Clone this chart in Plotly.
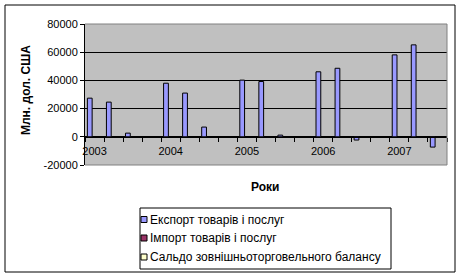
import plotly.graph_objects as go

# ---- data ----
category_labels = ["2003", "", "", "", "2004", "", "", "", "2005", "", "", "",
                   "2006", "", "", "", "2007", "", ""]
export_values = [27400, 24600, 2600, None, 38000, 31000, 6900, None,
                 40200, 39200, 1200, None, 46100, 48600, -2300, None,
                 58100, 65200, -7300]
series_names = ["Експорт товарів і послуг", "Імпорт товарів і послуг",
                "Сальдо зовнішньоторговельного балансу"]
series_colors = ["#9999FF", "#993366", "#FFFFCC"]
y_tick_values = [-20000, 0, 20000, 40000, 60000, 80000]
y_tick_labels = ["-20000", "0", "20000", "40000", "60000", "80000"]
y_title = "Млн. дол. США"
x_title = "Роки"

# ---- layout geometry (pixels) ----
W, H = 462, 278
L, R, T, B = 85, 15, 24, 113
PW, PH = W - L - R, H - T - B


def px_x(p):
    return (p - L) / PW


def px_y(p):
    return (H - B - p) / PH


FONT = "Liberation Sans, Arial, sans-serif"
x_pos = list(range(len(category_labels)))
tick_pos = [i for i, s in enumerate(category_labels) if s]
tick_txt = [s for s in category_labels if s]

fig = go.Figure()
fig.add_trace(go.Bar(
    x=x_pos, y=export_values, name=series_names[0],
    width=0.25, offset=-0.375,
    marker=dict(color=series_colors[0], line=dict(color="black", width=1)),
    showlegend=False,
))

zero_frac = (0 - y_tick_values[0]) / (y_tick_values[-1] - y_tick_values[0])

fig.update_layout(
    width=W, height=H,
    margin=dict(l=L, r=R, t=T, b=B),
    paper_bgcolor="white", plot_bgcolor="#C0C0C0",
    barmode="overlay",
    font=dict(family=FONT, size=11, color="black"),
    xaxis=dict(
        range=[-0.5, len(category_labels) - 0.5],
        anchor="free", position=zero_frac,
        showline=True, linecolor="black", linewidth=1,
        showgrid=False, zeroline=False,
        tickmode="array", tickvals=tick_pos, ticktext=tick_txt,
        ticks="outside", ticklen=4, tickcolor="rgba(0,0,0,0)",
        tickfont=dict(size=11, color="black"),
        minor=dict(tickmode="linear", tick0=-0.5, dtick=1, ticks="outside",
                   ticklen=4, tickcolor="black", tickwidth=1, showgrid=False),
    ),
    yaxis=dict(
        range=[y_tick_values[0], y_tick_values[-1]],
        tickmode="array", tickvals=y_tick_values, ticktext=y_tick_labels,
        showline=True, linecolor="black", linewidth=1,
        ticks="outside", ticklen=4, tickcolor="black",
        showgrid=True, gridcolor="black", gridwidth=1,
        zeroline=False,
        tickfont=dict(size=11, color="black"),
    ),
)

shapes = []
# plot-area border (top, right, bottom) in gray
for (x0, y0, x1, y1) in [(0, 1, 1, 1), (1, 0, 1, 1), (0, 0, 1, 0)]:
    shapes.append(dict(type="line", xref="paper", yref="paper",
                       x0=x0, y0=y0, x1=x1, y1=y1,
                       line=dict(color="#808080", width=1), layer="above"))
# outer chart border
shapes.append(dict(type="rect", xref="paper", yref="paper",
                   x0=px_x(5), y0=px_y(5), x1=px_x(455), y1=px_y(272),
                   line=dict(color="black", width=1), layer="below"))
# legend box
lg_left, lg_top, lg_right, lg_bottom = 140, 208, 391, 269
shapes.append(dict(type="rect", xref="paper", yref="paper",
                   x0=px_x(lg_left), y0=px_y(lg_top), x1=px_x(lg_right), y1=px_y(lg_bottom),
                   line=dict(color="black", width=1), fillcolor="white", layer="above"))
annotations = []
row_y = [219.5, 238, 257]
for name, color, ry in zip(series_names, series_colors, row_y):
    shapes.append(dict(type="rect", xref="paper", yref="paper",
                       x0=px_x(141), y0=px_y(ry - 3), x1=px_x(147), y1=px_y(ry + 3),
                       line=dict(color="black", width=1), fillcolor=color, layer="above"))
    annotations.append(dict(text=name, xref="paper", yref="paper",
                            x=px_x(148), y=px_y(ry), xanchor="left", yanchor="middle",
                            showarrow=False, font=dict(size=12, color="black", family=FONT)))

annotations.append(dict(text="<b>" + y_title + "</b>", xref="paper", yref="paper",
                        x=px_x(26), y=px_y(90), xanchor="center", yanchor="middle",
                        textangle=-90, showarrow=False,
                        font=dict(size=12, color="black", family=FONT)))
annotations.append(dict(text="<b>" + x_title + "</b>", xref="paper", yref="paper",
                        x=px_x(265), y=px_y(187), xanchor="center", yanchor="middle",
                        showarrow=False, font=dict(size=12, color="black", family=FONT)))

fig.update_layout(shapes=shapes, annotations=annotations)
fig.write_html("out.html")
